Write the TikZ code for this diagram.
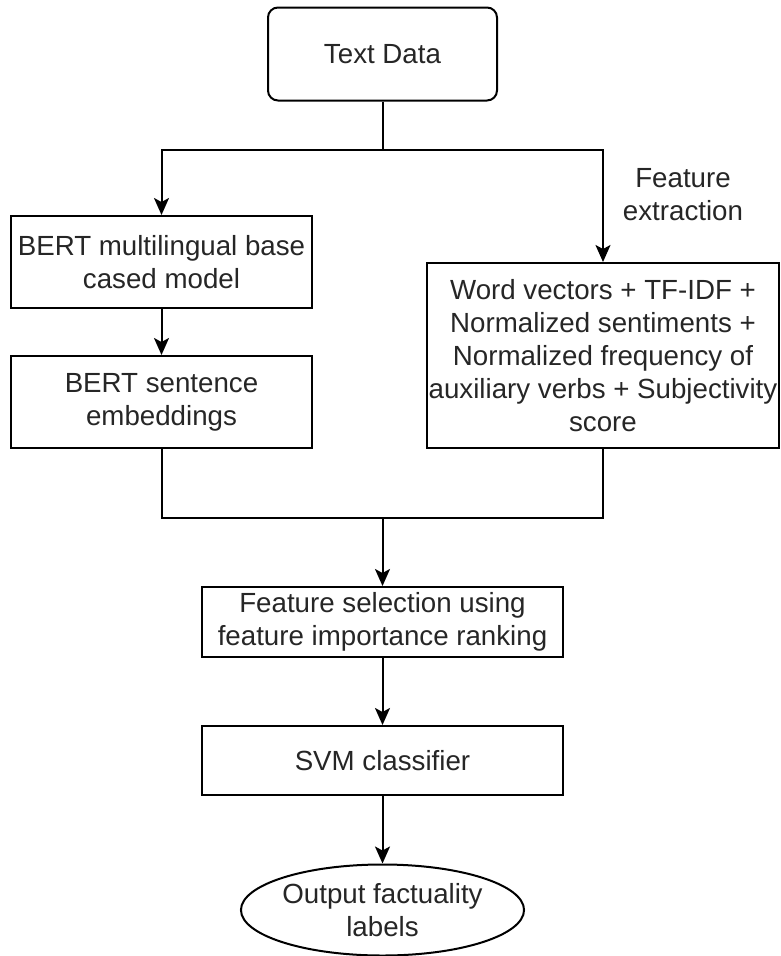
\documentclass[tikz,border=0pt]{standalone}
\usepackage{fontspec}
\setmainfont{Liberation Sans}
\usepackage{tikz}
\usetikzlibrary{arrows.meta,shapes.geometric}

\begin{document}
\begin{tikzpicture}[
  x=1pt, y=-1pt,
  font=\fontsize{27.7pt}{33pt}\selectfont,
  line width=2pt,
  bnode/.style={draw,rectangle,align=center,inner sep=0pt,text=black!85},
  rnode/.style={bnode,rounded corners=10pt},
  enode/.style={draw,ellipse,align=center,inner sep=0pt,text=black!85},
  arr/.style={-{Stealth[length=17pt,width=15pt,inset=4pt]}}
]
  \useasboundingbox (0,0) rectangle (781,956);

  % input
  \node[rnode,minimum width=229pt,minimum height=93pt] (txt) at (382.5,54) {Text Data};

  % branches
  \node[bnode,minimum width=301pt,minimum height=92pt] (bert) at (161.5,262) {BERT multilingual base\\cased model};
  \node[bnode,minimum width=301pt,minimum height=92pt] (emb) at (161.5,402) {BERT sentence\\embeddings};
  \node[bnode,minimum width=352pt,minimum height=185pt] (feat) at (603,355.5) {Word vectors + TF-IDF +\\Normalized sentiments +\\Normalized frequency of\\auxiliary verbs + Subjectivity\\score};
  \node[text=black!85,align=center] (fxlbl) at (683,195) {Feature\\extraction};

  % pipeline
  \node[bnode,minimum width=361pt,minimum height=70pt] (sel) at (382.5,622) {Feature selection using\\feature importance ranking};
  \node[bnode,minimum width=361pt,minimum height=69pt] (svm) at (382.5,760.5) {SVM classifier};
  \node[enode,minimum width=257pt,minimum height=91pt] (out) at (382.5,910) {Output factuality\\labels};

  % split and join points
  \coordinate (split) at (382.5,150);
  \coordinate (join) at (382.5,518);

  % edges
  \draw (txt.south) -- (split);
  \draw[arr] (split) -| (bert.north);
  \draw[arr] (split) -| (feat.north);
  \draw[arr] (bert) edge (emb);
  \draw (emb.south) |- (join);
  \draw (feat.south) |- (join);
  \draw[arr] (join) -- (sel.north);
  \draw[arr] (sel) edge (svm);
  \draw[arr] (svm) edge (out);

\end{tikzpicture}
\end{document}
